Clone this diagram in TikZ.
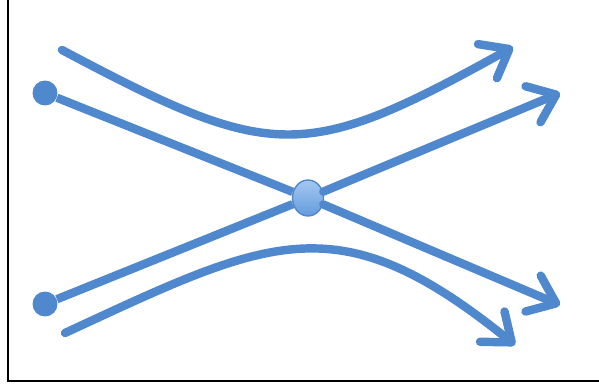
\documentclass[tikz,border=0pt]{standalone}
\usetikzlibrary{arrows.meta,shapes.geometric}
\definecolor{lineblue}{RGB}{80,136,205}
\definecolor{hubtop}{RGB}{165,200,242}
\definecolor{hubbot}{RGB}{100,155,220}
\tikzset{
flow/.style={draw=lineblue,line width=4.8pt,line cap=round,-{Straight Barb[length=5mm,width=7.8mm,round]}},
plain/.style={draw=lineblue,line width=4.8pt},
dot/.style={circle,fill=lineblue,inner sep=0pt,minimum size=.5cm},
hub/.style={ellipse,draw=lineblue,line width=.8pt,top color=hubtop,bottom color=hubbot,inner sep=0pt,minimum width=.62cm,minimum height=.72cm}}
\begin{document}
\begin{tikzpicture}[x=.02cm,y=-.02cm]
\useasboundingbox(0,0)rectangle(599,385);
\draw[line width=1.2pt](8,0)--(8,381)--(599,381);
\node[dot](p)at(45,93){};\node[dot](q)at(45,304){};\node[hub](h)at(308,198){};
\coordinate(pend)at(560,305);\coordinate(qend)at(560,93);
\coordinate(ua)at(62,50);\coordinate(ub)at(513,47);
\coordinate(la)at(65,333);\coordinate(lb)at(515,345);
\draw[plain](p)--(h);\draw[plain](q)--(h);
\draw[flow](h)--(pend);\draw[flow](h)--(qend);
\draw[flow](ua)..controls(273,162)and(304,163)..(ub);
\draw[flow](la)..controls(272,237)and(338,202)..(lb);
\end{tikzpicture}
\end{document}
